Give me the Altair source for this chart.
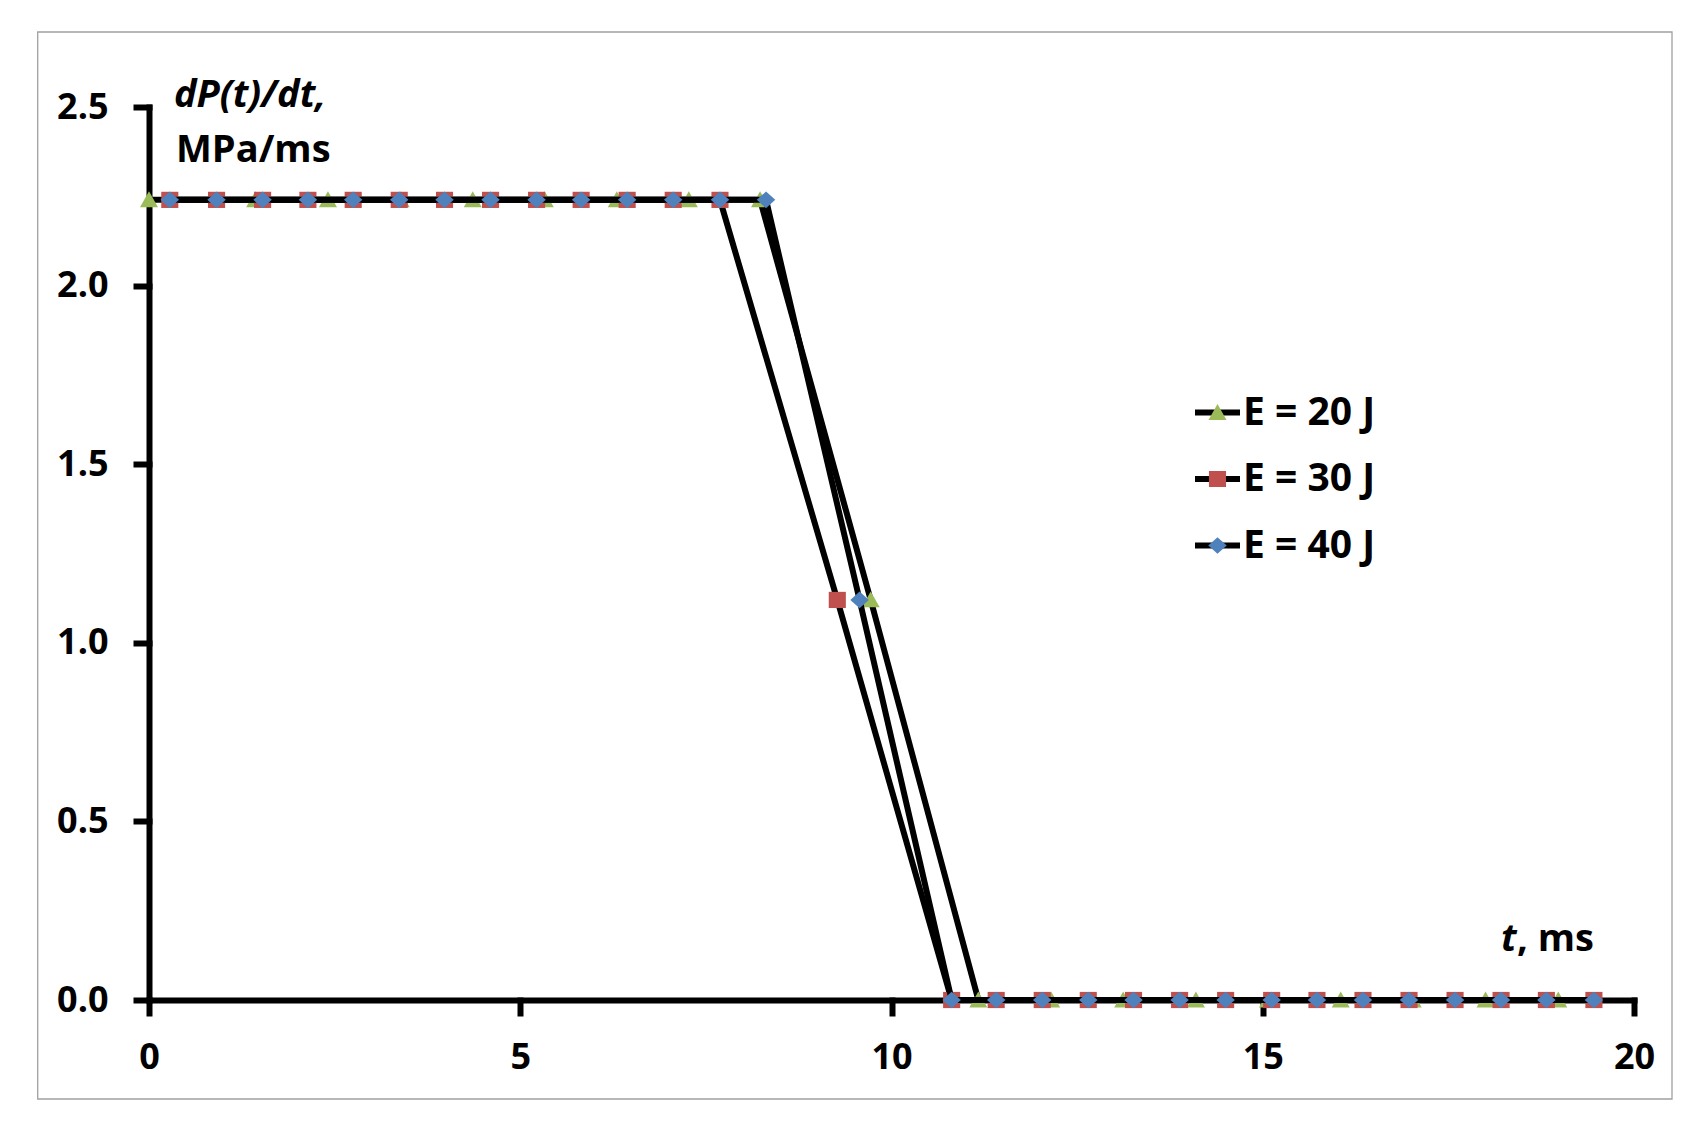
import altair as alt
import pandas as pd

# ---- data ----
series_names = ["E = 20 J", "E = 30 J", "E = 40 J"]

t20 = [0.00, 1.43, 2.41, 3.39, 4.36, 5.33, 6.30, 7.27, 8.23, 9.72,
       11.17, 12.15, 13.12, 14.10, 15.07, 16.05, 17.02, 18.00, 18.98]
p20 = [2.24, 2.24, 2.24, 2.24, 2.24, 2.24, 2.24, 2.24, 2.24, 1.12,
       0.0, 0.0, 0.0, 0.0, 0.0, 0.0, 0.0, 0.0, 0.0]

t30 = [0.28, 0.91, 1.53, 2.14, 2.75, 3.37, 3.98, 4.60, 5.22, 5.82, 6.44, 7.06, 7.69,
       9.27,
       10.81, 11.41, 12.03, 12.65, 13.26, 13.88, 14.50, 15.12, 15.73, 16.35, 16.97,
       17.59, 18.21, 18.82, 19.46]
p30 = [2.24, 2.24, 2.24, 2.24, 2.24, 2.24, 2.24, 2.24, 2.24, 2.24, 2.24, 2.24, 2.24,
       1.12,
       0.0, 0.0, 0.0, 0.0, 0.0, 0.0, 0.0, 0.0, 0.0, 0.0, 0.0, 0.0, 0.0, 0.0, 0.0]

t40 = [0.28, 0.91, 1.53, 2.14, 2.75, 3.37, 3.98, 4.60, 5.22, 5.82, 6.44, 7.06, 7.69, 8.31,
       9.57,
       10.81, 11.41, 12.03, 12.65, 13.26, 13.88, 14.50, 15.12, 15.73, 16.35, 16.97,
       17.59, 18.21, 18.82, 19.46]
p40 = [2.24, 2.24, 2.24, 2.24, 2.24, 2.24, 2.24, 2.24, 2.24, 2.24, 2.24, 2.24, 2.24, 2.24,
       1.12,
       0.0, 0.0, 0.0, 0.0, 0.0, 0.0, 0.0, 0.0, 0.0, 0.0, 0.0, 0.0, 0.0, 0.0, 0.0]

x_ticks = [0, 5, 10, 15, 20]
y_ticks = [0.0, 0.5, 1.0, 1.5, 2.0, 2.5]

y_title_line1 = "dP(t)/dt,"
y_title_line2 = "MPa/ms"
x_title_italic = "t"
x_title_rest = ", ms"

# line legend keys must differ from marker legend keys so Vega-Lite keeps two legends
line_keys = [n + " (line)" for n in series_names]

rows = []
for name, lkey, ts, ps in zip(series_names, line_keys, [t20, t30, t40], [p20, p30, p40]):
    for t, p in zip(ts, ps):
        rows.append({"series": name, "line_series": lkey, "t": t, "p": p})
df = pd.DataFrame(rows)

# ---- styling ----
W, H = 1485, 893
FONT = "Open Sans"
SYM = 2025  # symbol box 45 px
LW = 6
marker_colors = ["#9BBB59", "#C0504D", "#4F81BD"]
shape_paths = [
    "M 0 -0.38 L 0.4 0.33 L -0.4 0.33 Z",
    "M -0.38 -0.36 L 0.38 -0.36 L 0.38 0.36 L -0.38 0.36 Z",
    "M 0 -0.37 L 0.41 0 L 0 0.37 L -0.41 0 Z",
]

LEG_X, LEG_Y = 1043, 283
legend_common = dict(
    orient="none", legendX=LEG_X, legendY=LEG_Y, title=None,
    symbolSize=SYM, labelFont=FONT, labelFontSize=39, labelFontWeight="bold",
    labelColor="black", labelOffset=0, rowPadding=21.5, padding=0, clipHeight=45,
    symbolStrokeWidth=LW,
)

x_enc = alt.X("t:Q", scale=alt.Scale(domain=[0, 20], nice=False, zero=False),
              axis=alt.Axis(values=x_ticks, format="d", title=None, labelPadding=27))
y_enc = alt.Y("p:Q", scale=alt.Scale(domain=[0, 2.5], nice=False),
              axis=alt.Axis(values=y_ticks, format=".1f", title=None, labelPadding=28))

stroke_enc = alt.Stroke(
    "line_series:N",
    scale=alt.Scale(domain=line_keys, range=["#000000", "#000000", "#000000"]),
    legend=alt.Legend(symbolType="stroke", labelExpr="''", zindex=0, **legend_common),
)
marker_legend = dict(symbolStrokeColor="transparent", symbolOpacity=1, zindex=1, **legend_common)
color_enc = alt.Color(
    "series:N", scale=alt.Scale(domain=series_names, range=marker_colors),
    legend=alt.Legend(**marker_legend),
)
shape_enc = alt.Shape(
    "series:N", scale=alt.Scale(domain=series_names, range=shape_paths),
    legend=alt.Legend(**marker_legend),
)

one = pd.DataFrame({"a": [0]})

border = alt.Chart(one).mark_rect(
    fill="transparent", stroke="#a0a0a0", strokeWidth=1.3
).encode(x=alt.value(-111.3), x2=alt.value(1523), y=alt.value(-75), y2=alt.value(992))

layers = [border]
base = alt.Chart(df)
for name in series_names:
    sub = base.transform_filter(alt.datum.series == name)
    layers.append(sub.mark_line(strokeWidth=LW).encode(x=x_enc, y=y_enc, stroke=stroke_enc))
    layers.append(
        sub.mark_point(filled=True, size=SYM, opacity=1, strokeWidth=0).encode(
            x=x_enc, y=y_enc, color=color_enc, shape=shape_enc)
    )

def label(text, x, y, align="left", italic=False, size=38):
    kw = dict(text=text, align=align, baseline="alphabetic", font=FONT, fontSize=size,
              fontWeight="bold", color="black")
    if italic:
        kw["fontStyle"] = "italic"
    return alt.Chart(one).mark_text(**kw).encode(x=alt.value(x), y=alt.value(y))

layers += [
    label(y_title_line1, 25, 0, italic=True),
    label(y_title_line2, 27, 55),
    label(x_title_italic, 1352, 844, italic=True),
    label(x_title_rest, 1368, 844),
]

chart = alt.layer(*layers).properties(
    width=W, height=H,
    padding={"left": 141, "top": 99, "right": 55, "bottom": 105},
    autosize=alt.AutoSizeParams(type="none"),
    background="white",
).configure_view(strokeWidth=0).configure_axis(
    grid=False, domainColor="black", domainWidth=6, tickColor="black", tickWidth=6,
    tickSize=13, domainCap="square", tickCap="square",
    labelFont=FONT, labelFontSize=36, labelFontWeight="bold", labelColor="black",
    labelFlush=False,
)

chart.save("out.html", embed_options={"renderer": "svg", "actions": False})
